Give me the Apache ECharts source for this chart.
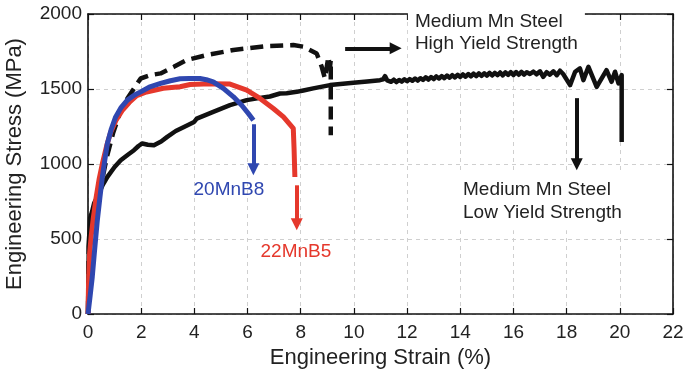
<!DOCTYPE html>
<html>
<head>
<meta charset="utf-8">
<script src="https://cdn.jsdelivr.net/npm/echarts@6/dist/echarts.min.js"></script>
<style>
  html, body { margin: 0; padding: 0; background: #fff; }
  #chart { width: 684px; height: 377px; }
</style>
</head>
<body>
<div id="chart"></div>
<script>
// Engineering stress-strain curves (strain in %, stress in MPa)

const strainTicks = { min: 0, max: 22, interval: 2 };
const stressTicks = { min: 0, max: 2000, interval: 500 };

// 20MnB8
const mnb8Strain = [0, 0.08, 0.16, 0.25, 0.35, 0.45, 0.54, 0.64, 0.73, 0.88, 1.04, 1.25, 1.48, 1.75, 1.98, 2.3, 2.73, 3.1, 3.46, 3.8, 4.21, 4.45, 4.71, 5.09, 5.47, 5.78, 6.03, 6.22];
const mnb8Stress = [0, 120, 246, 430, 624, 780, 914, 1035, 1137, 1235, 1314, 1378, 1426, 1460, 1481, 1512, 1537, 1555, 1568, 1570, 1570, 1562, 1548, 1504, 1448, 1392, 1337, 1292];

// 22MnB5
const mnb5Strain = [0, 0.02, 0.06, 0.12, 0.2, 0.3, 0.42, 0.55, 0.7, 0.85, 1.05, 1.3, 1.55, 1.83, 2.2, 2.83, 3.46, 3.84, 4.6, 5.34, 5.97, 6.47, 6.97, 7.35, 7.72, 7.75, 7.78];
const mnb5Stress = [0, 200, 400, 520, 640, 770, 900, 1010, 1120, 1210, 1290, 1360, 1410, 1455, 1480, 1505, 1515, 1530, 1535, 1533, 1493, 1437, 1370, 1314, 1237, 1100, 913];

// Medium Mn steel, high yield strength
const highStrain = [0, 0.03, 0.12, 0.29, 0.48, 0.7, 0.95, 1.2, 1.48, 1.73, 1.98, 2.36, 2.73, 3.23, 3.71, 4.46, 5.47, 6.72, 7.72, 8.1, 8.6, 8.79, 8.91, 9.04, 9.1, 9.13, 9.13];
const highStress = [0, 450, 600, 713, 847, 1040, 1210, 1340, 1437, 1504, 1570, 1593, 1604, 1648, 1693, 1726, 1760, 1786, 1793, 1782, 1737, 1648, 1570, 1715, 1648, 1693, 1192];

// Medium Mn steel, low yield strength (serrated flow beyond ~11 %)
const lowStrain = [0, 0.02, 0.03, 0.06, 0.08, 0.15, 0.23, 0.41, 0.55, 0.73, 1.0, 1.23, 1.5, 1.73, 1.9, 2.04, 2.25, 2.48, 2.75, 2.98, 3.3, 3.61, 3.99, 4.09, 4.71, 5.34, 5.97, 6.59, 6.84, 7.22, 7.47, 7.85, 8.1, 8.47, 9.1, 9.98, 10.5, 10.98, 11.1, 11.17, 11.25,
  11.4, 11.5, 11.6, 11.7, 11.8, 11.9, 12.0, 12.1, 12.2, 12.3, 12.4, 12.5, 12.6, 12.7, 12.8, 12.9, 13.0, 13.1, 13.2, 13.3, 13.4, 13.5, 13.6, 13.7, 13.8, 13.9,
  14.0, 14.1, 14.2, 14.3, 14.4, 14.5, 14.6, 14.7, 14.8, 14.9, 15.0, 15.1, 15.2, 15.3, 15.4, 15.5, 15.6, 15.7, 15.8, 15.9, 16.0, 16.1, 16.2, 16.3, 16.4, 16.5, 16.62,
  16.75, 16.87, 17.0, 17.12, 17.25, 17.37, 17.5, 17.63, 17.75, 17.87, 18.13, 18.32, 18.5, 18.63, 18.82, 19.13, 19.5, 19.69, 19.82, 19.95, 20.07, 20.07];
const lowStress = [0, 300, 480, 560, 640, 680, 738, 803, 860, 914, 980, 1025, 1062, 1092, 1120, 1137, 1128, 1125, 1150, 1181, 1220, 1247, 1280, 1303, 1348, 1392, 1426, 1444, 1450, 1470, 1472, 1481, 1490, 1504, 1526, 1541, 1550, 1559, 1565, 1586, 1558,
  1548, 1562, 1546, 1560, 1549, 1565, 1552, 1566, 1555, 1570, 1556, 1572, 1560, 1578, 1563, 1580, 1566, 1584, 1570, 1586, 1572, 1590, 1575, 1592, 1577, 1595,
  1580, 1597, 1582, 1600, 1584, 1602, 1586, 1604, 1588, 1605, 1589, 1607, 1590, 1608, 1592, 1610, 1591, 1611, 1594, 1612, 1593, 1613, 1595, 1614, 1596, 1612, 1600,
  1616, 1598, 1618, 1581, 1612, 1596, 1618, 1592, 1622, 1600, 1526, 1615, 1637, 1559, 1648, 1514, 1626, 1548, 1615, 1537, 1593, 1147];

const BLUE = '#2f47b0';
const RED = '#e5382c';
const BLACK = '#111111';
const TEXT = '#222222';
const FONT = '"Liberation Sans", Arial, sans-serif';

function pairs(xs, ys) { return xs.map((x, i) => [x, ys[i]]); }

function arrow(from, to, color) {
  return {
    silent: true,
    symbol: ['none', 'triangle'],
    symbolSize: 12,
    label: { show: false },
    lineStyle: { color: color, width: 4, type: 'solid' },
    emphasis: { disabled: true },
    data: [[{ coord: from }, { coord: to }]]
  };
}

const chart = echarts.init(document.getElementById('chart'));

const gridLine = { show: true, lineStyle: { color: '#cfcfcf', width: 1, type: [4, 4] } };
const frameLine = { show: true, onZero: false, lineStyle: { color: BLACK, width: 1.6 } };
const plainNumber = v => String(v);

chart.setOption({
  animation: false,
  backgroundColor: '#fff',
  grid: { left: 88, right: 11, top: 14, bottom: 63, containLabel: false, outerBoundsMode: 'none' },
  xAxis: [{
    type: 'value', min: strainTicks.min, max: strainTicks.max, interval: strainTicks.interval,
    name: 'Engineering Strain (%)', nameLocation: 'middle', nameGap: 33,
    nameTextStyle: { fontSize: 22, color: TEXT, fontFamily: FONT },
    axisLine: frameLine,
    axisTick: { show: true, inside: true, length: 6, lineStyle: { color: BLACK, width: 1.2 } },
    axisLabel: { fontSize: 19, color: TEXT, fontFamily: FONT, margin: 9, formatter: plainNumber },
    splitLine: gridLine
  }, {
    type: 'value', position: 'top', min: strainTicks.min, max: strainTicks.max, interval: strainTicks.interval,
    axisLine: frameLine,
    axisTick: { show: true, inside: true, length: 6, lineStyle: { color: BLACK, width: 1.2 } },
    axisLabel: { show: false }, splitLine: { show: false }
  }],
  yAxis: [{
    type: 'value', min: stressTicks.min, max: stressTicks.max, interval: stressTicks.interval,
    name: 'Engineering Stress (MPa)', nameLocation: 'middle', nameGap: 62,
    nameTextStyle: { fontSize: 22, color: TEXT, fontFamily: FONT },
    axisLine: frameLine,
    axisTick: { show: true, inside: true, length: 6, lineStyle: { color: BLACK, width: 1.2 } },
    axisLabel: { fontSize: 19, color: TEXT, fontFamily: FONT, margin: 6, formatter: plainNumber },
    splitLine: gridLine
  }, {
    type: 'value', position: 'right', min: stressTicks.min, max: stressTicks.max, interval: stressTicks.interval,
    axisLine: frameLine,
    axisTick: { show: true, inside: true, length: 6, lineStyle: { color: BLACK, width: 1.2 } },
    axisLabel: { show: false }, splitLine: { show: false }
  }],
  series: [
    {
      name: 'Medium Mn Steel Low Yield Strength', type: 'line', data: pairs(lowStrain, lowStress),
      showSymbol: false, lineStyle: { color: BLACK, width: 4.5, join: 'round' }, z: 2,
      markLine: arrow([18.38, 1439], [18.38, 998], BLACK)
    },
    {
      name: 'Medium Mn Steel High Yield Strength', type: 'line', data: pairs(highStrain, highStress),
      showSymbol: false, lineStyle: { color: BLACK, width: 4.5, type: [13, 7] }, z: 3,
      markLine: arrow([9.67, 1771], [11.57, 1771], BLACK)
    },
    {
      name: '22MnB5', type: 'line', data: pairs(mnb5Strain, mnb5Stress),
      showSymbol: false, lineStyle: { color: RED, width: 5, join: 'round' }, z: 4,
      markLine: arrow([7.85, 858], [7.85, 598], RED)
    },
    {
      name: '20MnB8', type: 'line', data: pairs(mnb8Strain, mnb8Stress),
      showSymbol: false, lineStyle: { color: BLUE, width: 5, join: 'round' }, z: 5,
      markLine: arrow([6.22, 1265], [6.22, 965], BLUE)
    }
  ]
});

// Annotation text placed in data coordinates
function at(strain, stress) { return chart.convertToPixel({ xAxisIndex: 0, yAxisIndex: 0 }, [strain, stress]); }

const pHigh = at(12.03, 2062);
const pLow = at(13.84, 945);
const pB8 = at(5.30, 831);
const pB5 = at(7.82, 417);

chart.setOption({
  graphic: [
    {
      type: 'text', x: pHigh[0], y: pHigh[1], z: 100,
      style: {
        text: 'Medium Mn Steel\nHigh Yield Strength', fill: TEXT, font: '19px ' + FONT,
        lineHeight: 22, align: 'left', verticalAlign: 'top',
        backgroundColor: '#fff', padding: [6, 7, 4, 7]
      }
    },
    {
      type: 'text', x: pLow[0], y: pLow[1], z: 100,
      style: {
        text: 'Medium Mn Steel\nLow Yield Strength', fill: TEXT, font: '19px ' + FONT,
        lineHeight: 23, align: 'left', verticalAlign: 'top',
        backgroundColor: '#fff', padding: [6, 7, 6, 7]
      }
    },
    {
      type: 'text', x: pB8[0], y: pB8[1], z: 100,
      style: { text: '20MnB8', fill: BLUE, font: '19px ' + FONT, align: 'center', verticalAlign: 'middle' }
    },
    {
      type: 'text', x: pB5[0], y: pB5[1], z: 100,
      style: { text: '22MnB5', fill: RED, font: '19px ' + FONT, align: 'center', verticalAlign: 'middle' }
    }
  ]
});
</script>
</body>
</html>
